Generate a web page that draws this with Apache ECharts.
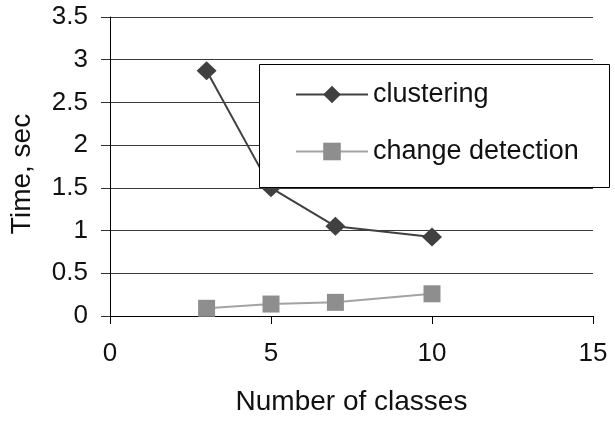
<!DOCTYPE html>
<html>
<head>
<meta charset="utf-8">
<script src="https://cdn.jsdelivr.net/npm/echarts@6/dist/echarts.min.js"></script>
<style>
  html, body { margin: 0; padding: 0; background: #fff; }
  #chart { width: 615px; height: 422px; }
</style>
</head>
<body>
<div id="chart"></div>
<script>
// Number of classes on the x axis
const classes = [3, 5, 7, 10];
// Running time in seconds for each stage
const clusteringTime = [2.87, 1.5, 1.05, 0.925];
const changeDetectionTime = [0.09, 0.14, 0.16, 0.26];
const seriesNames = ['clustering', 'change detection'];

const FONT = 'Liberation Sans, Arial, sans-serif';

const toPairs = (xs, ys) => xs.map((x, i) => [x, ys[i]]);

const chart = echarts.init(document.getElementById('chart'), null, { renderer: 'canvas' });

chart.setOption({
  backgroundColor: '#ffffff',
  animation: false,
  grid: { left: 110, right: 22, top: 17, bottom: 106 },
  xAxis: {
    type: 'value',
    min: 0, max: 15, interval: 5,
    name: 'Number of classes',
    nameLocation: 'middle',
    nameGap: 72,
    nameTextStyle: { fontFamily: FONT, fontSize: 28, color: '#111' },
    axisLine: { show: true, onZero: false, lineStyle: { color: '#000', width: 1 } },
    axisTick: { show: true, length: 8, lineStyle: { color: '#000', width: 1 } },
    axisLabel: { fontFamily: FONT, fontSize: 26, color: '#111', margin: 25 },
    splitLine: { show: false }
  },
  yAxis: {
    type: 'value',
    min: 0, max: 3.5, interval: 0.5,
    name: 'Time, sec',
    nameLocation: 'middle',
    nameGap: 74,
    nameTextStyle: { fontFamily: FONT, fontSize: 28, color: '#111', padding: [0, 15, 0, 0] },
    axisLine: { show: true, lineStyle: { color: '#000', width: 1 } },
    axisTick: { show: true, length: 9, lineStyle: { color: '#333', width: 1 } },
    axisLabel: { fontFamily: FONT, fontSize: 26, color: '#111', margin: 22 },
    splitLine: { show: true, lineStyle: { color: '#3a3a3a', width: 1 } }
  },
  legend: {
    orient: 'vertical',
    left: 290,
    top: 76,
    z: 10,
    itemWidth: 72,
    itemHeight: 22,
    itemGap: 30,
    textStyle: { fontFamily: FONT, fontSize: 27, color: '#111' },
    data: seriesNames
  },
  graphic: [{
    type: 'rect',
    z: 8,
    shape: { x: 259.5, y: 64.5, width: 350, height: 123 },
    style: { fill: '#ffffff', stroke: '#000000', lineWidth: 1 }
  }],
  series: [
    {
      name: seriesNames[0],
      type: 'line',
      data: toPairs(classes, clusteringTime),
      symbol: 'diamond',
      symbolSize: [20, 19],
      lineStyle: { color: '#404040', width: 2 },
      itemStyle: { color: '#404040' },
      z: 3
    },
    {
      name: seriesNames[1],
      type: 'line',
      data: toPairs(classes, changeDetectionTime),
      symbol: 'rect',
      symbolSize: 17,
      lineStyle: { color: '#a3a3a3', width: 2 },
      itemStyle: { color: '#8e8e8e' },
      z: 3
    }
  ]
});
</script>
</body>
</html>
